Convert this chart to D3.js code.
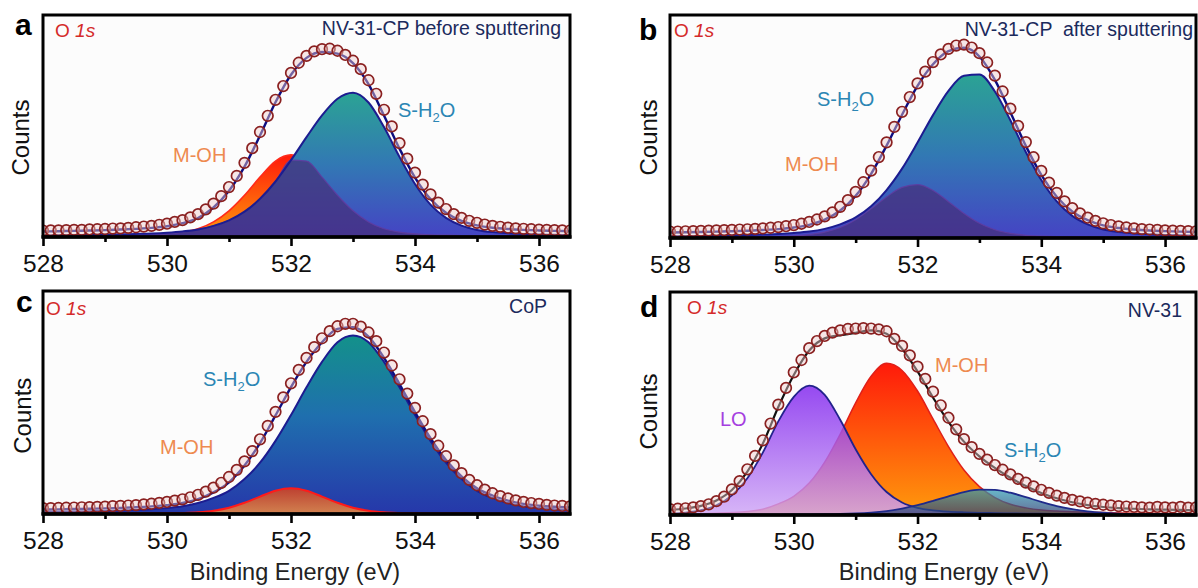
<!DOCTYPE html>
<html><head><meta charset="utf-8">
<script src="https://cdn.jsdelivr.net/npm/d3@7"></script>
<style>
html,body{margin:0;padding:0;background:#fff;}
svg{display:block;font-family:"Liberation Sans",Arial,Helvetica,sans-serif;}
</style></head><body>
<script>
// ---------- shared axis data ----------
const xDomain = [528, 536.5];
const majorTicks = [528, 530, 532, 534, 536];
const minorTicks = [529, 531, 533, 535];
const energyFit = [528,528.25,528.5,528.75,529,529.25,529.5,529.75,530,530.25,530.5,530.75,531,531.25,531.5,531.75,532,532.25,532.5,532.75,533,533.25,533.5,533.75,534,534.25,534.5,534.75,535,535.25,535.5,535.75,536,536.25,536.5];
const energyData = [528,528.125,528.25,528.375,528.5,528.625,528.75,528.875,529,529.125,529.25,529.375,529.5,529.625,529.75,529.875,530,530.125,530.25,530.375,530.5,530.625,530.75,530.875,531,531.125,531.25,531.375,531.5,531.625,531.75,531.875,532,532.125,532.25,532.375,532.5,532.625,532.75,532.875,533,533.125,533.25,533.375,533.5,533.625,533.75,533.875,534,534.125,534.25,534.375,534.5,534.625,534.75,534.875,535,535.125,535.25,535.375,535.5,535.625,535.75,535.875,536,536.125,536.25,536.375,536.5];

// ---------- panel a : NV-31-CP before sputtering ----------
const aMOH = [0.32,0.36,0.42,0.48,0.56,0.66,0.80,1.0,1.41,2.22,3.7,6.8,11.8,18.8,27.0,34.2,37.0,34.2,27.0,18.8,11.8,6.8,3.7,2.22,1.41,1.0,0.80,0.66,0.56,0.48,0.42,0.36,0.32,0.29,0.26];
const aSH2O = [0.69,0.76,0.84,0.93,1.05,1.19,1.37,1.59,1.95,2.5,3.38,5.0,7.5,11.4,17.2,25.0,34.6,45.0,54.8,62.3,65.0,60.6,49.5,36.1,23.9,14.6,8.6,5.1,3.2,2.2,1.69,1.36,1.13,0.98,0.85];
const aEnvelope = [2.51,2.62,2.76,2.91,3.11,3.35,3.67,4.09,4.86,6.22,8.58,13.3,20.8,31.7,45.7,60.7,73.1,80.7,83.3,82.6,78.3,68.9,54.7,39.8,26.8,17.1,10.9,7.26,5.26,4.18,3.61,3.22,2.95,2.77,2.61];
const aCounts = [2.9,3.0,3.0,3.1,3.2,3.2,3.4,3.5, 3.6,3.8,3.9,4.1,4.4,4.7,5.0,5.5, 6.0,6.8,7.6,8.8,10.3,12.4,15.0,18.4, 22.5,27.5,33.4,40.0,47.3,54.6,61.8,68.0, 73.9,78.5,81.6,83.6,84.6,84.8,83.9,82.0, 79.4,75.6,70.6,64.5,57.3,49.8,42.3,35.3, 29.0,23.6,19.2,15.5,12.6,10.3,8.6,7.3, 6.4,5.6,5.0,4.6,4.2,3.9,3.7,3.5, 3.3,3.2,3.1,3.0,2.9];

// ---------- panel b : NV-31-CP after sputtering ----------
const bMOH = [0.21,0.24,0.27,0.31,0.36,0.43,0.53,0.67,0.94,1.5,2.6,4.7,8.2,13.1,18.4,22.7,23.9,21.3,16.3,11.0,6.6,3.7,2.1,1.22,0.82,0.6,0.48,0.40,0.34,0.30,0.26,0.23,0.2,0.18,0.16];
const bSH2O = [0.77,0.85,0.94,1.05,1.18,1.35,1.56,1.83,2.26,2.9,4.1,6.1,9.2,14.2,21.5,31.1,42.8,55.1,66.0,72.8,73.3,65.7,52.8,38.6,26.0,16.4,9.9,6.1,3.8,2.7,2.05,1.64,1.38,1.2,1.04];
const bEnvelope = [2.48,2.59,2.71,2.86,3.04,3.28,3.59,4.0,4.7,5.9,8.2,12.3,18.9,28.8,41.4,55.3,68.2,77.9,83.8,85.3,81.4,70.9,56.4,41.3,28.3,18.5,11.9,8.0,5.64,4.5,3.81,3.37,3.08,2.88,2.7];
const bCounts = [2.9,2.9,3.0,3.1,3.2,3.3,3.4,3.5, 3.6,3.8,3.9,4.1,4.3,4.6,4.9,5.3, 5.8,6.4,7.2,8.3,9.7,11.5,14.0,17.0, 20.7,25.0,30.2,36.3,42.9,49.8,56.6,63.2, 69.3,74.6,78.9,82.3,84.8,86.3,86.7,85.4, 82.9,78.7,72.8,65.7,58.0,50.3,43.0,36.2, 30.1,24.8,20.2,16.4,13.4,11.0,9.1,7.7, 6.6,5.8,5.2,4.7,4.3,4.0,3.8,3.6, 3.4,3.3,3.2,3.1,3.0];

// ---------- panel c : CoP ----------
const cMOH = [0.08,0.09,0.10,0.12,0.14,0.17,0.20,0.24,0.32,0.47,0.78,1.48,2.84,5.03,7.8,10.4,11.5,10.4,7.8,5.03,2.84,1.48,0.78,0.47,0.32,0.24,0.20,0.17,0.14,0.12,0.10,0.09,0.08,0.07,0.07];
const cSH2O = [0.91,1.0,1.11,1.24,1.38,1.58,1.85,2.16,2.64,3.44,4.9,7.2,10.4,15.7,23.0,32.8,44.4,56.8,68.2,77.0,80.0,77.0,68.2,56.8,44.4,32.8,23.0,15.7,10.4,7.2,4.9,3.44,2.64,2.16,1.85];
const cEnvelope = [1.99,2.09,2.21,2.36,2.52,2.75,3.05,3.4,3.96,4.91,6.68,9.68,14.2,21.7,31.8,44.2,56.9,68.2,77.0,83.0,83.8,79.5,70.0,58.3,45.7,34.0,24.2,16.9,11.5,8.3,6.0,4.53,3.72,3.23,2.92];
const cCounts = [2.6,2.6,2.7,2.8,2.9,3.0,3.1,3.2, 3.3,3.5,3.6,3.8,4.0,4.3,4.6,5.0, 5.4,6.0,6.6,7.5,8.6,10.0,11.8,14.0, 16.6,19.8,23.6,28.2,33.5,39.5,45.8,52.3, 58.6,64.6,70.0,74.8,78.8,82.0,84.2,85.3, 85.3,84.0,81.4,77.5,72.4,66.6,60.4,54.0, 47.6,41.6,35.8,30.6,25.9,21.8,18.3,15.3, 12.9,10.9,9.3,8.0,7.0,6.1,5.4,4.9, 4.5,4.1,3.8,3.6,3.4];

// ---------- panel d : NV-31 ----------
const dLO = [0.6,1.1,2.2,4.4,8.8,16.5,28.0,42.0,53.0,58.0,53.9,42.7,29.5,18.3,10.3,5.6,3.2,2.1,1.53,1.21,0.99,0.84,0.73,0.63,0.55,0.49,0.43,0.39,0.35,0.31,0.28,0.26,0.24,0.22,0.2];
const dMOH = [0.4,0.5,0.6,0.8,1.1,1.6,2.6,5.0,8.4,14.3,23.7,36.2,50.3,62.2,68.0,64.8,55.6,43.1,30.7,20.2,12.7,7.8,4.8,3.2,2.24,1.77,1.46,1.24,1.07,0.94,0.83,0.74,0.66,0.6,0.54];
const dSH2O = [0.09,0.1,0.11,0.12,0.14,0.16,0.18,0.2,0.23,0.28,0.36,0.47,0.7,1.1,1.78,2.86,4.38,6.3,8.4,10.3,11.4,11.3,10.0,8.0,5.9,4.0,2.6,1.6,1.0,0.64,0.45,0.34,0.27,0.23,0.2];
const dEnvelope = [2.3,2.9,4.1,6.5,11.2,19.5,32.0,48.4,62.8,73.8,79.2,80.6,81.7,82.8,81.3,74.5,64.4,52.7,41.8,32.9,26.3,21.1,16.7,13.0,9.9,7.5,5.7,4.4,3.6,3.1,2.8,2.5,2.4,2.3,2.1];
const dCounts = [2.6,2.8,3.0,3.4,4.0,4.8,6.2,8.2, 11.5,15.2,20.5,26.5,33.5,41.0,49.5,57.0, 64.0,69.5,74.8,78.0,80.3,81.8,82.8,83.4, 83.6,83.8,83.6,83.2,82.4,79.0,75.8,71.6, 66.5,61.0,55.3,49.2,43.6,38.4,34.0,30.4, 27.4,24.8,22.4,20.3,18.2,16.2,14.5,12.8, 11.3,9.9,8.7,7.7,6.8,6.1,5.5,5.0, 4.6,4.3,4.0,3.8,3.6,3.4,3.3,3.6, 3.4,3.3,3.6,3.3,3.4];

// overlap of the two fitted components (region under both curves)
const aOverlap = aMOH.map((v, i) => Math.min(v, aSH2O[i]));
const bOverlap = bMOH.map((v, i) => Math.min(v, bSH2O[i]));

// ---------- drawing ----------
const svg = d3.select("body").append("svg").attr("width", 1198).attr("height", 588);
const defs = svg.append("defs");
function addGrad(id, stops) {
  const g = defs.append("linearGradient").attr("id", id)
    .attr("x1", 0).attr("y1", 0).attr("x2", 0).attr("y2", 1);
  stops.forEach(s => g.append("stop").attr("offset", s[0]).attr("stop-color", s[1]));
}
addGrad("gS", [[0, "#2ba394"], [0.5, "#3278b4"], [1, "#4543c4"]]);
addGrad("gSc", [[0, "#13918a"], [0.45, "#1f6fae"], [1, "#2637aa"]]);
addGrad("gM", [[0, "#ff1a0a"], [1, "#ff9a0c"]]);
addGrad("gMc", [[0, "#d8401c"], [1, "#f09040"]]);
addGrad("gLO", [[0, "#7f22ee"], [1, "#cfa6f6"]]);
addGrad("gSd", [[0, "#2f9db5"], [1, "#2a3570"]]);

const COL = { mOH: "#ee8a50", sH2O: "#2b86b4", lo: "#a53fe0", o1s: "#d42a2a", title: "#1b2a5c" };

const panels = [
  { id: "a", l: 43, r: 570, t: 15, b: 237, letter: [15, 35], o1s: [55, 37],
    title: "NV-31-CP before sputtering", titlePos: [561, 35], counts: [29, 137.5],
    layers: [
      { kind: "area", v: aMOH, fill: "url(#gM)" },
      { kind: "line", v: aMOH, stroke: "#ff2a1a", w: 1.6 },
      { kind: "area", v: aSH2O, fill: "url(#gS)" },
      { kind: "area", v: aOverlap, fill: "rgba(70,45,120,0.7)" },
      { kind: "line", v: aOverlap, stroke: "rgba(95,60,160,0.9)", w: 1.2 },
      { kind: "line", v: aSH2O, stroke: "#1c1c90", w: 2 },
      { kind: "line", v: aEnvelope, stroke: "#0d0d80", w: 2.4 }],
    counts_: aCounts,
    peaks: [{ t: "M-OH", x: 173, y: 161.7, c: COL.mOH }, { t: "S-H2O", x: 398, y: 117, c: COL.sH2O }] },
  { id: "b", l: 670, r: 1196, t: 15, b: 238, letter: [639, 40], o1s: [674, 37],
    title: "NV-31-CP  after sputtering", titlePos: [1193, 36], counts: [657, 137.5],
    layers: [
      { kind: "area", v: bMOH, fill: "url(#gM)" },
      { kind: "line", v: bMOH, stroke: "#ff2a1a", w: 1.6 },
      { kind: "area", v: bSH2O, fill: "url(#gS)" },
      { kind: "area", v: bOverlap, fill: "rgba(70,45,120,0.7)" },
      { kind: "line", v: bOverlap, stroke: "rgba(95,60,160,0.9)", w: 1.2 },
      { kind: "line", v: bSH2O, stroke: "#1c1c90", w: 2 },
      { kind: "line", v: bEnvelope, stroke: "#0d0d80", w: 2.4 }],
    counts_: bCounts,
    peaks: [{ t: "S-H2O", x: 817, y: 106, c: COL.sH2O }, { t: "M-OH", x: 785, y: 170.7, c: COL.mOH }] },
  { id: "c", l: 43, r: 570, t: 291, b: 514, letter: [16, 312], o1s: [46, 315],
    title: "CoP", titlePos: [547, 313], counts: [30.6, 415.7], xlabel: [295, 580],
    layers: [
      { kind: "area", v: cSH2O, fill: "url(#gSc)" },
      { kind: "line", v: cSH2O, stroke: "#1c1c90", w: 2 },
      { kind: "area", v: cMOH, fill: "url(#gMc)", op: 0.85 },
      { kind: "line", v: cMOH, stroke: "#ff1a1a", w: 2 },
      { kind: "line", v: cEnvelope, stroke: "#0d0d80", w: 2.4 }],
    counts_: cCounts,
    peaks: [{ t: "S-H2O", x: 203, y: 386, c: COL.sH2O }, { t: "M-OH", x: 160, y: 454, c: COL.mOH }] },
  { id: "d", l: 670, r: 1196, t: 292, b: 515, letter: [640, 317], o1s: [687, 314],
    title: "NV-31", titlePos: [1182, 316.7], counts: [657, 411.5], xlabel: [944, 580],
    layers: [
      { kind: "area", v: dMOH, fill: "url(#gM)" },
      { kind: "line", v: dMOH, stroke: "#e0201a", w: 1.5 },
      { kind: "area", v: dLO, fill: "url(#gLO)", op: 0.82 },
      { kind: "line", v: dLO, stroke: "#22228c", w: 1.8 },
      { kind: "area", v: dSH2O, fill: "url(#gSd)", op: 0.72 },
      { kind: "line", v: dSH2O, stroke: "#1f2a8a", w: 1.8 },
      { kind: "line", v: dEnvelope, stroke: "#111111", w: 2.2 }],
    counts_: dCounts,
    peaks: [{ t: "LO", x: 720, y: 426, c: COL.lo }, { t: "M-OH", x: 935, y: 371.7, c: COL.mOH }, { t: "S-H2O", x: 1004, y: 456.7, c: COL.sH2O }] }
];

function peakLabel(g, p) {
  const t = g.append("text").attr("x", p.x).attr("y", p.y).attr("fill", p.c).attr("font-size", 20);
  if (p.t === "S-H2O") {
    t.append("tspan").text("S-H");
    t.append("tspan").attr("font-size", 13).attr("dy", 5).text("2");
    t.append("tspan").attr("dy", -5).text("O");
  } else {
    t.text(p.t);
  }
}

panels.forEach(P => {
  const x = d3.scaleLinear().domain(xDomain).range([P.l, P.r]);
  const y = d3.scaleLinear().domain([0, 100]).range([P.b, P.t]);
  const g = svg.append("g");
  const clipId = "clip-" + P.id;
  defs.append("clipPath").attr("id", clipId).append("rect")
    .attr("x", P.l).attr("y", P.t).attr("width", P.r - P.l).attr("height", P.b - P.t);

  g.append("rect").attr("x", P.l).attr("y", P.t).attr("width", P.r - P.l).attr("height", P.b - P.t)
    .attr("fill", "#fcfcfc");

  const plot = g.append("g").attr("clip-path", `url(#${clipId})`);
  const area = d3.area().x((d, i) => x(energyFit[i])).y0(y(0)).y1(d => y(d)).curve(d3.curveMonotoneX);
  const line = d3.line().x((d, i) => x(energyFit[i])).y(d => y(d)).curve(d3.curveMonotoneX);

  P.layers.forEach(L => {
    if (L.kind === "area") {
      plot.append("path").attr("d", area(L.v)).attr("fill", L.fill).attr("fill-opacity", L.op ?? 1);
    } else {
      plot.append("path").attr("d", line(L.v)).attr("fill", "none")
        .attr("stroke", L.stroke).attr("stroke-width", L.w).attr("stroke-linejoin", "round");
    }
  });

  plot.selectAll("circle.pt").data(P.counts_).join("circle").attr("class", "pt")
    .attr("cx", (d, i) => x(energyData[i])).attr("cy", d => y(d)).attr("r", 5.3)
    .attr("fill", "rgba(240,205,205,0.45)").attr("stroke", "#8a2020").attr("stroke-width", 1.7);

  // frame
  g.append("rect").attr("x", P.l).attr("y", P.t).attr("width", P.r - P.l).attr("height", P.b - P.t)
    .attr("fill", "none").attr("stroke", "#000").attr("stroke-width", 3);
  g.append("line").attr("x1", P.l - 1.5).attr("x2", P.r + 1.5).attr("y1", P.b).attr("y2", P.b)
    .attr("stroke", "#000").attr("stroke-width", 3.5);

  // axes
  const ax = g.append("g").attr("transform", `translate(0,${P.b})`)
    .call(d3.axisBottom(x).tickValues(majorTicks).tickSize(9).tickPadding(8.5).tickFormat(d3.format("d")));
  ax.select(".domain").remove();
  ax.selectAll(".tick line").attr("stroke", "#000").attr("stroke-width", 2.6);
  ax.selectAll(".tick text").attr("font-size", 24.5).attr("fill", "#111")
    .attr("font-family", "'Liberation Sans', Arial, sans-serif");
  const axm = g.append("g").attr("transform", `translate(0,${P.b})`)
    .call(d3.axisBottom(x).tickValues(minorTicks).tickSize(5).tickFormat(""));
  axm.select(".domain").remove();
  axm.selectAll(".tick line").attr("stroke", "#000").attr("stroke-width", 2.6);

  // texts
  g.append("text").attr("x", P.letter[0]).attr("y", P.letter[1]).attr("font-size", 30)
    .attr("font-weight", "bold").attr("fill", "#000").text(P.id);
  const o = g.append("text").attr("x", P.o1s[0]).attr("y", P.o1s[1]).attr("font-size", 19).attr("fill", COL.o1s);
  o.append("tspan").text("O ");
  o.append("tspan").attr("font-style", "italic").text("1s");
  g.append("text").attr("x", P.titlePos[0]).attr("y", P.titlePos[1]).attr("text-anchor", "end")
    .attr("font-size", 19.5).attr("fill", COL.title).style("white-space", "pre").text(P.title);
  g.append("text").attr("transform", `translate(${P.counts[0]},${P.counts[1]}) rotate(-90)`)
    .attr("text-anchor", "middle").attr("font-size", 24).attr("fill", "#111").text("Counts");
  if (P.xlabel) {
    g.append("text").attr("x", P.xlabel[0]).attr("y", P.xlabel[1]).attr("text-anchor", "middle")
      .attr("font-size", 23.5).attr("fill", "#222").text("Binding Energy (eV)");
  }
  P.peaks.forEach(pk => peakLabel(g, pk));
});
</script>
</body></html>
